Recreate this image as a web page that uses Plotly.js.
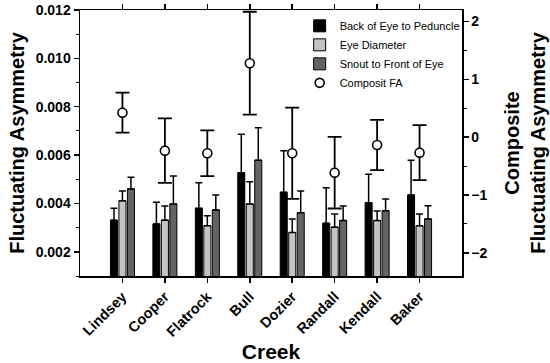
<!DOCTYPE html>
<html>
<head>
<meta charset="utf-8">
<script src="https://cdn.plot.ly/plotly-3.0.1.min.js"></script>
<style>html,body{margin:0;padding:0;background:#fff;}#chart{width:550px;height:363px;}</style>
</head>
<body>
<div id="chart"></div>
<script>
const creeks = ["Lindsey","Cooper","Flatrock","Bull","Dozier","Randall","Kendall","Baker"];

const backEye     = [0.00331,0.00315,0.00380,0.00527,0.00446,0.00318,0.00403,0.00435];
const backEyeErr  = [0.00049,0.00090,0.00106,0.00159,0.00172,0.00147,0.00118,0.00144];
const eyeDiam     = [0.00411,0.00331,0.00308,0.00398,0.00280,0.00302,0.00329,0.00308];
const eyeDiamErr  = [0.00041,0.00058,0.00041,0.00092,0.00056,0.00054,0.00040,0.00048];
const snout       = [0.00460,0.00398,0.00373,0.00579,0.00362,0.00329,0.00370,0.00336];
const snoutErr    = [0.00048,0.00116,0.00062,0.00134,0.00090,0.00060,0.00048,0.00054];

const compFA      = [0.425,-0.232,-0.277,1.28,-0.277,-0.613,-0.134,-0.267];
const compFAErr   = [0.345,0.557,0.395,0.89,0.79,0.62,0.435,0.475];

const zeros = creeks.map(() => 0);
const font = "Arial, 'Liberation Sans', sans-serif";

function barTrace(name, y, err, color) {
  return {
    type: 'bar', name: name, x: creeks, y: y,
    marker: {color: color, line: {color: '#000', width: 1}},
    error_y: {type: 'data', symmetric: false, array: err, arrayminus: zeros,
              color: '#000', thickness: 1.5, width: 3.5}
  };
}

const traces = [
  barTrace('Back of Eye to Peduncle', backEye, backEyeErr, '#000000'),
  barTrace('Eye Diameter', eyeDiam, eyeDiamErr, '#c4c4c4'),
  barTrace('Snout to Front of Eye', snout, snoutErr, '#646464'),
  {
    type: 'scatter', mode: 'markers', name: 'Composit FA', x: creeks, y: compFA, yaxis: 'y2',
    marker: {symbol: 'circle', size: 9, color: '#fff', line: {color: '#000', width: 1.6}},
    error_y: {type: 'data', array: compFAErr, color: '#000', thickness: 1.8, width: 7}
  }
];

const layout = {
  width: 550, height: 363,
  margin: {l: 80, r: 88, t: 10, b: 87},
  paper_bgcolor: '#fff', plot_bgcolor: '#fff',
  font: {family: font, color: '#000'},
  showlegend: true,
  barmode: 'group', bargap: 0.4, bargroupgap: 0.17,
  legend: {x: 0.575, y: 0.995, xanchor: 'left', yanchor: 'top', bgcolor: 'rgba(0,0,0,0)',
           font: {size: 11, family: font}, tracegroupgap: 0},
  xaxis: {
    type: 'category', range: [-1, 8],
    showline: true, linecolor: '#000', linewidth: 1.5, mirror: 'ticks',
    ticks: 'outside', ticklen: 5, tickwidth: 1.5, tickcolor: '#000',
    tickangle: -45, tickfont: {size: 14.5, family: font, weight: 'bold'},
    showgrid: false, zeroline: false,
    title: {text: '<b>Creek</b>', font: {size: 21, family: font}, standoff: 6}
  },
  yaxis: {
    range: [0.001, 0.012], tickvals: [0.002,0.004,0.006,0.008,0.010,0.012],
    ticktext: ['0.002','0.004','0.006','0.008','0.010','0.012'],
    showline: true, linecolor: '#000', linewidth: 1.5,
    ticks: 'outside', ticklen: 5, tickwidth: 1.5, tickcolor: '#000',
    minor: {tickvals: [0.001,0.003,0.005,0.007,0.009,0.011], ticks: 'outside', ticklen: 3, tickwidth: 1, tickcolor: '#000'},
    tickfont: {size: 14, family: font, weight: 'bold'},
    showgrid: false, zeroline: false,
    title: {text: '<b>Fluctuating Asymmetry</b>', font: {size: 20, family: font}, standoff: 5}
  },
  yaxis2: {
    overlaying: 'y', side: 'right', range: [-2.4, 2.2],
    tickvals: [-2,-1,0,1,2],
    showline: true, linecolor: '#000', linewidth: 1.5,
    ticks: 'outside', ticklen: 5, tickwidth: 1.5, tickcolor: '#000',
    minor: {tickvals: [-1.5,-0.5,0.5,1.5], ticks: 'outside', ticklen: 3, tickwidth: 1, tickcolor: '#000'},
    tickfont: {size: 14, family: font, weight: 'bold'},
    showgrid: false, zeroline: false,
    title: {text: '<b>Composite<br>Fluctuating Asymmetry</b>', font: {size: 20, family: font}, standoff: 18}
  }
};

Plotly.newPlot('chart', traces, layout, {displayModeBar: false, staticPlot: true});
</script>
</body>
</html>
